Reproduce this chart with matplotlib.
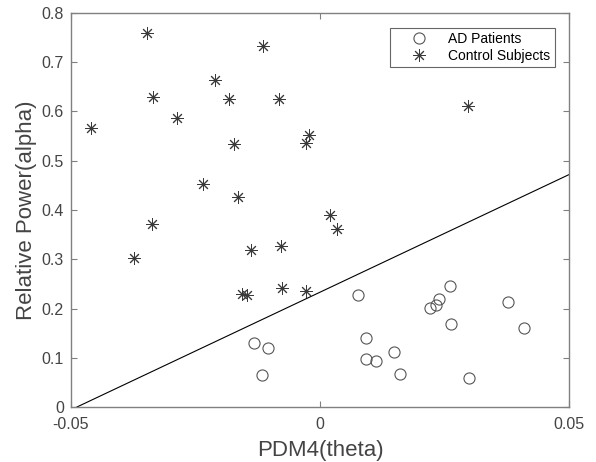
import numpy as np
import matplotlib.pyplot as plt

plt.rcParams['font.family'] = ['Liberation Sans', 'DejaVu Sans']

# AD patients (circles)
ad_x = [-0.0133, -0.0104, -0.0117, 0.0076, 0.0093, 0.0093, 0.0112, 0.0149, 0.0161,
        0.0220, 0.0232, 0.0238, 0.0261, 0.0263, 0.0299, 0.0378, 0.0410]
ad_y = [0.130, 0.120, 0.064, 0.227, 0.140, 0.097, 0.093, 0.111, 0.068,
        0.202, 0.208, 0.220, 0.246, 0.169, 0.058, 0.213, 0.161]

# control subjects (asterisks)
ctl_x = [-0.0460, -0.0348, -0.0335, -0.0288, -0.0210, -0.0115, -0.0183, -0.0082,
         -0.0172, -0.0235, -0.0165, -0.0337, -0.0022, -0.0029, 0.0297, 0.0019,
         0.0034, -0.0373, -0.0139, -0.0079, -0.0157, -0.0147, -0.0076, -0.0029]
ctl_y = [0.567, 0.759, 0.629, 0.587, 0.663, 0.732, 0.626, 0.625,
         0.534, 0.453, 0.427, 0.372, 0.552, 0.535, 0.612, 0.390,
         0.361, 0.303, 0.319, 0.326, 0.229, 0.227, 0.242, 0.236]

# separating line
line_x = [-0.0488, 0.05]
line_y = [0.0, 0.472]

fig = plt.figure(figsize=(5.96, 4.62), dpi=100)
ax = fig.add_axes([0.119, 0.119, 0.836, 0.853])

ax.plot(ad_x, ad_y, linestyle='none', marker='o', markersize=8, markerfacecolor='none',
        markeredgecolor='#555555', markeredgewidth=0.8, label='AD Patients')
ax.plot(ctl_x, ctl_y, linestyle='none', marker=(8, 2, 0), markersize=9,
        markeredgecolor='#3a3a3a', markeredgewidth=0.7, label='Control Subjects')
ax.plot(line_x, line_y, color='black', linewidth=0.8)

ax.set_xlim(-0.05, 0.05)
ax.set_ylim(0, 0.8)
ax.set_xticks([-0.05, 0, 0.05])
ax.set_xticklabels(['-0.05', '0', '0.05'])
ax.set_yticks(np.arange(0, 0.81, 0.1))
ax.set_yticklabels(['0', '0.1', '0.2', '0.3', '0.4', '0.5', '0.6', '0.7', '0.8'])
ax.tick_params(direction='in', length=4, width=0.8, colors='#808080', labelcolor='#444444',
               labelsize=11.5, top=True, right=True)
ax.tick_params(axis='x', pad=7)
ax.tick_params(axis='y', pad=5)
for s in ax.spines.values():
    s.set_color('#808080')
    s.set_linewidth(1.0)

ax.set_xlabel('PDM4(theta)', fontsize=16, color='#444444', labelpad=6)
ax.set_ylabel('Relative Power(alpha)', fontsize=16, color='#444444', labelpad=3)

leg = ax.legend(loc='upper right', fontsize=10, frameon=True, fancybox=False,
                edgecolor='#404040', borderaxespad=1.05, handlelength=3.6, handletextpad=0.3,
                borderpad=0.3, labelspacing=0.25)
leg.get_frame().set_linewidth(0.8)

fig.savefig('out.png', dpi=100)
